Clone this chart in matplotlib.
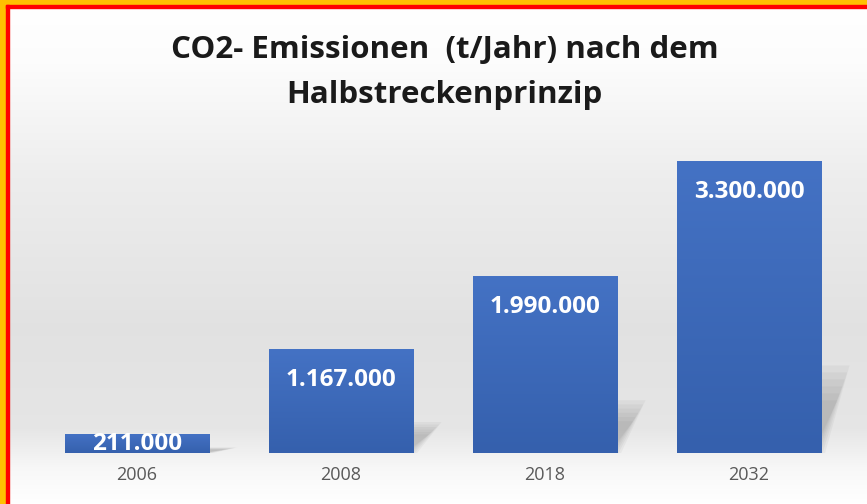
import numpy as np
import matplotlib.pyplot as plt
from matplotlib.patches import Rectangle, Polygon
from matplotlib.colors import LinearSegmentedColormap

years = ["2006", "2008", "2018", "2032"]
emissions = [211000, 1167000, 1990000, 3300000]
labels = ["211.000", "1.167.000", "1.990.000", "3.300.000"]

W, H = 867, 504
fig = plt.figure(figsize=(W / 100, H / 100), dpi=100)

# background gradient (white -> light gray -> white)
bg = fig.add_axes([0, 0, 1, 1], zorder=0)
stops = np.array([[0, 1.0], [0.12, 0.99], [0.35, 0.93], [0.65, 0.885], [0.85, 0.9], [0.93, 0.97], [1.0, 1.0]])
yy = np.linspace(0, 1, 300)
vals = np.interp(yy, stops[:, 0], stops[:, 1])
grad = np.repeat(vals[:, None], 2, axis=1)
grad = np.dstack([grad, grad, grad])
bg.imshow(grad, aspect="auto", extent=[0, 1, 1, 0])
bg.set_xlim(0, 1)
bg.set_ylim(1, 0)
bg.axis("off")

# frame: orange + red on top and left
fig.add_artist(Rectangle((0, 0), 6 / W, 1, transform=fig.transFigure, color="#FFC000", zorder=5))
fig.add_artist(Rectangle((0, 1 - 5 / H), 1, 5 / H, transform=fig.transFigure, color="#FFC000", zorder=5))
fig.add_artist(Rectangle((6 / W, 0), 2.5 / W, 1 - 5 / H, transform=fig.transFigure, color="#FF0000", zorder=6))
fig.add_artist(Rectangle((6 / W, 1 - 7.5 / H), 1 - 6 / W, 2.5 / H, transform=fig.transFigure, color="#FF0000", zorder=6))

ymax = 3600000
ax_h = ymax * (292 / 3300000) / H
ax = fig.add_axes([35 / W, (H - 453) / H, (851 - 35) / W, ax_h], zorder=2)
ax.patch.set_alpha(0)

x = np.arange(len(years))
bw = 0.706
cmap = LinearSegmentedColormap.from_list("bar", ["#3560ad", "#4472C4"])
bars = ax.bar(x, emissions, width=bw, color="none", zorder=3)
for b in bars:
    bx, by = b.get_x(), b.get_y()
    bh = b.get_height()
    img = np.linspace(0, 1, 100)[:, None]
    ax.imshow(img, cmap=cmap, aspect="auto", origin="lower",
              extent=[bx, bx + bw, 0, bh], zorder=3)
    # soft perspective shadow
    xr = bx + bw
    sh = 0.3 * bh
    for k in range(6):
        shrink = k * 0.012
        poly = Polygon([(bx + 0.1, 0), (xr + 0.02 - shrink, 0),
                        (xr + 0.14 - shrink, sh * (1 - k * 0.08)),
                        (bx + 0.2, sh * (1 - k * 0.08))],
                       closed=True, color="#707070", alpha=0.07, lw=0, zorder=2)
        ax.add_patch(poly)

for xi, v, lab in zip(x, emissions, labels):
    if v < 0.2 * max(emissions):
        ax.annotate(lab, (xi, v / 2), ha="center", va="center", color="white",
                    fontsize=17.5, fontweight="bold", family="Open Sans", zorder=5)
    else:
        ax.annotate(lab, (xi, v), xytext=(0, -22), textcoords="offset points",
                    ha="center", va="center", color="white",
                    fontsize=17.5, fontweight="bold", family="Open Sans", zorder=5)

ax.set_xlim(-0.5, 3.5)
ax.set_ylim(0, ymax)
ax.set_xticks(x)
ax.set_xticklabels(years, fontsize=13, color="#595959", family="Open Sans")
ax.tick_params(axis="x", length=0, pad=9)
ax.set_yticks([])
for s in ax.spines.values():
    s.set_visible(False)

fig.text(0.513, 1 - 50 / H, "CO2- Emissionen  (t/Jahr) nach dem", ha="center", va="center",
         fontsize=22.5, fontweight="bold", family="Open Sans", color="#1a1a1a")
fig.text(0.513, 1 - 95 / H, "Halbstreckenprinzip", ha="center", va="center",
         fontsize=22.5, fontweight="bold", family="Open Sans", color="#1a1a1a")

fig.savefig("out.png", dpi=100)
